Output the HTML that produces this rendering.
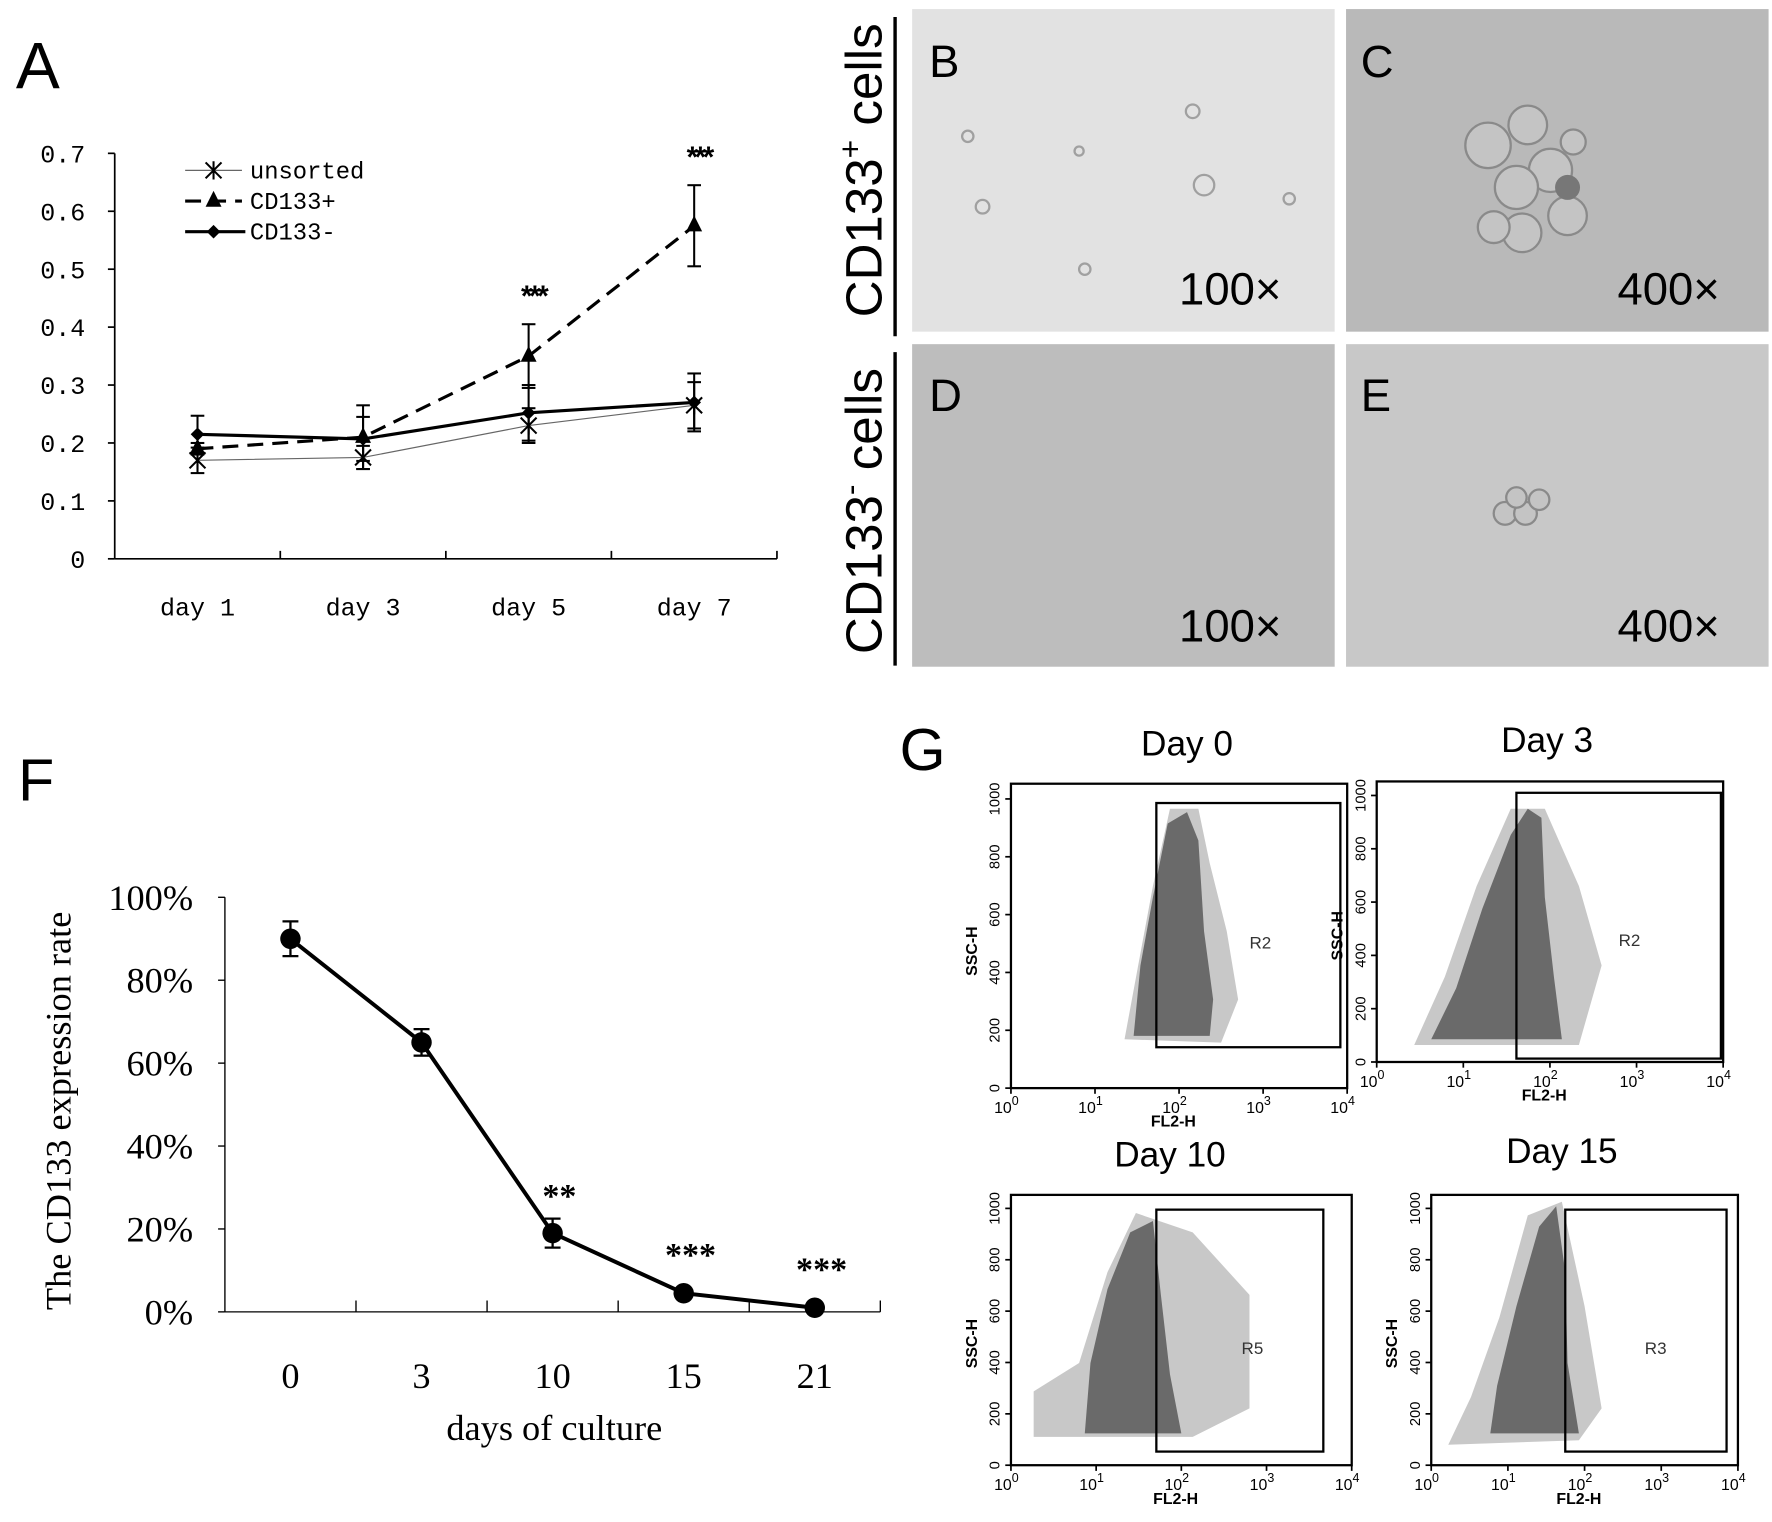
<!DOCTYPE html>
<html><head><meta charset="utf-8"><style>
html,body{margin:0;padding:0;background:#fff}
svg{display:block}
.mono{font-family:"Liberation Mono",monospace}
.serif{font-family:"Liberation Serif",serif}
.sans{font-family:"Liberation Sans",sans-serif}
</style></head><body>
<svg id="fig" width="1772" height="1522" viewBox="0 0 1560 1340" preserveAspectRatio="none" xmlns="http://www.w3.org/2000/svg">
<rect width="1560" height="1340" fill="#fff"/>
<text x="14" y="78" class="sans" font-size="58">A</text>
<text x="16" y="705" class="sans" font-size="52">F</text>
<text x="792" y="678" class="sans" font-size="52">G</text>
<g id="chartA"></g>
<g id="chartF"></g>

<g>
<rect x="803" y="8" width="372" height="284" fill="#e2e2e2"/>
<rect x="1185" y="8" width="372" height="284" fill="#b9b9b9"/>
<rect x="803" y="303" width="372" height="284" fill="#bdbdbd"/>
<rect x="1185" y="303" width="372" height="284" fill="#c8c8c8"/>
<g fill="none" stroke="#a0a0a0" stroke-width="2">
<circle cx="1060" cy="163" r="9"/><circle cx="852" cy="120" r="5"/><circle cx="865" cy="182" r="6"/><circle cx="1050" cy="98" r="6"/><circle cx="955" cy="237" r="5"/><circle cx="1135" cy="175" r="5"/><circle cx="950" cy="133" r="4"/>
</g>
<g fill="#c4c4c4" stroke="#8a8a8a" stroke-width="2">
<circle cx="1310" cy="128" r="20"/><circle cx="1345" cy="110" r="17"/><circle cx="1365" cy="150" r="19"/><circle cx="1335" cy="165" r="19"/><circle cx="1380" cy="190" r="17"/><circle cx="1340" cy="205" r="17"/><circle cx="1315" cy="200" r="14"/><circle cx="1385" cy="125" r="11"/>
<circle cx="1325" cy="452" r="10"/><circle cx="1343" cy="452" r="10"/><circle cx="1335" cy="438" r="9"/><circle cx="1355" cy="440" r="9"/>
</g>
<circle cx="1380" cy="165" r="11" fill="#777"/>
<g class="sans" font-size="40">
<text x="818" y="68">B</text>
<text x="1198" y="68">C</text>
<text x="818" y="362">D</text>
<text x="1198" y="362">E</text>
<text x="1038" y="268">100×</text>
<text x="1424" y="268">400×</text>
<text x="1038" y="565">100×</text>
<text x="1424" y="565">400×</text>
</g>
<g class="sans" font-size="45">
<text transform="translate(776,150) rotate(-90)" text-anchor="middle">CD133<tspan font-size="28" dy="-18">+</tspan><tspan dy="18"> cells</tspan></text>
<text transform="translate(776,450) rotate(-90)" text-anchor="middle">CD133<tspan font-size="28" dy="-18">-</tspan><tspan dy="18"> cells</tspan></text>
</g>
<line x1="788" y1="15" x2="788" y2="296" stroke="#000" stroke-width="3"/>
<line x1="788" y1="310" x2="788" y2="586" stroke="#000" stroke-width="3"/>
</g>

<g id="flow"></g>

<script>
const NS="http://www.w3.org/2000/svg";
function mk(tag,attrs,parent,txt){const e=document.createElementNS(NS,tag);for(const k in attrs)e.setAttribute(k,attrs[k]);if(txt!==undefined)e.textContent=txt;parent.appendChild(e);return e;}

const aCategories=["day 1","day 3","day 5","day 7"];
const aTicks=["0","0.1","0.2","0.3","0.4","0.5","0.6","0.7"];
const aUnsorted=[0.17,0.175,0.23,0.265];
const aUnsortedErr=[0.022,0.02,0.03,0.04];
const aPos=[0.19,0.21,0.35,0.575];
const aPosErr=[0.01,0.055,0.055,0.07];
const aNeg=[0.215,0.207,0.252,0.27];
const aNegErr=[0.032,0.038,0.048,0.05];
const aStars=["","","***","***"];

const fCategories=["0","3","10","15","21"];
const fTicks=["0%","20%","40%","60%","80%","100%"];
const fValues=[0.90,0.65,0.19,0.045,0.01];
const fErr=[0.042,0.032,0.035,0,0];
const fStars=["","","**","***","***"];

(function(){
 const g=document.getElementById('chartA');
 const L=101,R=684,T=135,B=492,max=0.7;
 const y=v=>B-(v/max)*(B-T);
 const step=(R-L)/aCategories.length;
 const x=i=>L+step*(i+0.5);
 mk('line',{x1:L,y1:T,x2:L,y2:B,stroke:'#000','stroke-width':1.5},g);
 mk('line',{x1:L,y1:B,x2:R,y2:B,stroke:'#000','stroke-width':1.5},g);
 aTicks.forEach((t,i)=>{const v=i*0.1;
  mk('line',{x1:L-6,y1:y(v),x2:L,y2:y(v),stroke:'#000','stroke-width':1.5},g);
  const tx=mk('text',{x:L-26,y:y(v)+8,'text-anchor':'end','font-size':22,class:'mono'},g,t);
  
  
 });
 for(let i=1;i<=aCategories.length;i++){mk('line',{x1:L+step*i,y1:B-7,x2:L+step*i,y2:B,stroke:'#000','stroke-width':1.5},g);}
 aCategories.forEach((c,i)=>{const tx=mk('text',{x:x(i),y:542,'text-anchor':'middle','font-size':22,class:'mono'},g,c);
  
  });
 function series(vals,errs,name,sw,dash,marker,col){
  const sg=mk('g',{},g);
  
  
  mk('polyline',{points:vals.map((v,i)=>x(i)+','+y(v)).join(' '),fill:'none',stroke:col,'stroke-width':sw,'stroke-dasharray':dash},sg);
  vals.forEach((v,i)=>{const xx=x(i);
   mk('line',{x1:xx,y1:y(v-errs[i]),x2:xx,y2:y(v+errs[i]),stroke:'#000','stroke-width':1.8},sg);
   mk('line',{x1:xx-6,y1:y(v+errs[i]),x2:xx+6,y2:y(v+errs[i]),stroke:'#000','stroke-width':1.8},sg);
   mk('line',{x1:xx-6,y1:y(v-errs[i]),x2:xx+6,y2:y(v-errs[i]),stroke:'#000','stroke-width':1.8},sg);
   marker(sg,xx,y(v));});
 }
 const star=(p,cx,cy)=>{mk('path',{d:`M${cx-7},${cy-7}L${cx+7},${cy+7}M${cx+7},${cy-7}L${cx-7},${cy+7}M${cx},${cy-8}L${cx},${cy+8}`,stroke:'#000','stroke-width':1.8},p);};
 const tri=(p,cx,cy)=>{mk('path',{d:`M${cx},${cy-9}L${cx+7},${cy+5}L${cx-7},${cy+5}Z`,fill:'#000'},p);};
 const dia=(p,cx,cy)=>{mk('path',{d:`M${cx},${cy-6}L${cx+6},${cy}L${cx},${cy+6}L${cx-6},${cy}Z`,fill:'#000'},p);};
 series(aUnsorted,aUnsortedErr,'series-unsorted',1,'none',star,'#666');
 series(aPos,aPosErr,'series-cd133-pos',2.8,'14 8',tri,'#000');
 series(aNeg,aNegErr,'series-cd133-neg',2.8,'none',dia,'#000');
 aStars.forEach((s,i)=>{if(!s)return;const v=aPos[i]+aPosErr[i];
  const tx=mk('text',{x:x(i)+4,y:y(v)-16,'text-anchor':'middle','font-size':26,'font-weight':'bold','letter-spacing':'-3',class:'sans'},g,s);
  
  });
 const lg=mk('g',{},g);
 
 
 mk('line',{x1:163,y1:150,x2:213,y2:150,stroke:'#666','stroke-width':1},lg);star(lg,188,150);
 mk('line',{x1:163,y1:177,x2:213,y2:177,stroke:'#000','stroke-width':2.8,'stroke-dasharray':'14 8'},lg);tri(lg,188,177);
 mk('line',{x1:163,y1:204,x2:216,y2:204,stroke:'#000','stroke-width':2.8},lg);dia(lg,188,204);
 [['unsorted',150],['CD133+',177],['CD133-',204]].forEach(([t,yy])=>{mk('text',{x:220,y:yy+7,'font-size':21,class:'mono'},lg,t);});
})();

(function(){
 const g=document.getElementById('chartF');
 const L=198,R=775,T=790,B=1155;
 const y=v=>B-v*(B-T);
 const step=(R-L)/fCategories.length;
 const x=i=>L+step*(i+0.5);
 mk('line',{x1:L,y1:T,x2:L,y2:B,stroke:'#000','stroke-width':1.2},g);
 mk('line',{x1:L,y1:B,x2:R,y2:B,stroke:'#000','stroke-width':1.2},g);
 fTicks.forEach((t,i)=>{const v=i*0.2;
  mk('line',{x1:L-6,y1:y(v),x2:L,y2:y(v),stroke:'#000','stroke-width':1.2},g);
  const tx=mk('text',{x:L-28,y:y(v)+11,'text-anchor':'end','font-size':32,class:'serif'},g,t);
  
  });
 for(let i=1;i<=fCategories.length;i++){mk('line',{x1:L+step*i,y1:B-10,x2:L+step*i,y2:B,stroke:'#000','stroke-width':1.2},g);}
 fCategories.forEach((c,i)=>{const tx=mk('text',{x:x(i),y:1222,'text-anchor':'middle','font-size':32,class:'serif'},g,c);
  
  });
 const xt=mk('text',{x:488,y:1268,'text-anchor':'middle','font-size':32,class:'serif'},g,'days of culture');
 
 
 const yt=mk('text',{transform:'translate(62,978) rotate(-90)','text-anchor':'middle','font-size':32,class:'serif'},g,'The CD133 expression rate');
 
 
 const line=mk('polyline',{points:fValues.map((v,i)=>x(i)+','+y(v)).join(' '),fill:'none',stroke:'#000','stroke-width':3.5},g);
 
 
 fValues.forEach((v,i)=>{const xx=x(i);
  if(fErr[i]>0){
   mk('line',{x1:xx,y1:y(v-fErr[i]),x2:xx,y2:y(v+fErr[i]),stroke:'#000','stroke-width':2},g);
   mk('line',{x1:xx-7,y1:y(v+fErr[i]),x2:xx+7,y2:y(v+fErr[i]),stroke:'#000','stroke-width':2},g);
   mk('line',{x1:xx-7,y1:y(v-fErr[i]),x2:xx+7,y2:y(v-fErr[i]),stroke:'#000','stroke-width':2},g);}
  const c=mk('circle',{cx:xx,cy:y(v),r:9,fill:'#000'},g);
  
  
  if(fStars[i]){const tx=mk('text',{x:xx+6,y:y(v+fErr[i])-(fErr[i]>0?10:24),'text-anchor':'middle','font-size':30,'font-weight':'bold',class:'serif'},g,fStars[i]);
   
   }
 });
})();

const flowTitles=["Day 0","Day 3","Day 10","Day 15"];
const flowGates=["R2","R2","R5","R3"];
(function(){
 const g=document.getElementById('flow');
 const plots=[
  {f:[890,690,1186,958],gate:[1018,707,1180,922],tx:1045,ty:665,blob:"998,912 1004,850 1015,790 1028,725 1045,715 1055,740 1060,820 1068,880 1065,912",halo:"990,915 1002,850 1015,780 1030,712 1055,712 1065,760 1080,820 1090,880 1075,918",gl:[1100,835]},
  {f:[1212,688,1517,935],gate:[1335,698,1515,932],tx:1362,ty:662,blob:"1260,915 1282,870 1305,800 1330,735 1345,712 1357,720 1360,790 1368,860 1375,915",halo:"1245,920 1272,860 1300,780 1330,712 1360,712 1390,780 1410,850 1390,920",gl:[1425,833]},
  {f:[890,1052,1190,1290],gate:[1018,1065,1165,1278],tx:1030,ty:1027,blob:"955,1262 960,1200 975,1135 995,1085 1015,1075 1022,1140 1030,1210 1040,1262",halo:"910,1265 910,1225 950,1200 975,1120 1000,1068 1050,1085 1100,1140 1100,1240 1050,1265",gl:[1093,1192]},
  {f:[1260,1052,1530,1290],gate:[1378,1065,1520,1278],tx:1375,ty:1024,blob:"1312,1262 1318,1220 1335,1150 1355,1080 1370,1062 1378,1120 1380,1200 1390,1262",halo:"1275,1272 1295,1230 1320,1160 1345,1070 1375,1058 1395,1150 1410,1240 1390,1268",gl:[1448,1192]}
 ];
 plots.forEach((p,k)=>{
  const pg=mk('g',{},g);
  
  
  const [x0,y0,x1,y1]=p.f;
  mk('polygon',{points:p.halo,fill:'#c8c8c8'},pg);
  mk('polygon',{points:p.blob,fill:'#6a6a6a'},pg);
  mk('rect',{x:x0,y:y0,width:x1-x0,height:y1-y0,fill:'none',stroke:'#000','stroke-width':2},pg);
  const [gx0,gy0,gx1,gy1]=p.gate;
  mk('rect',{x:gx0,y:gy0,width:gx1-gx0,height:gy1-gy0,fill:'none',stroke:'#000','stroke-width':2},pg);
  const t=mk('text',{x:p.tx,y:p.ty,'text-anchor':'middle','font-size':31,class:'sans'},pg,flowTitles[k]);
  
  
  mk('text',{x:p.gl[0],y:p.gl[1],'font-size':15,class:'sans',fill:'#333'},pg,flowGates[k]);
  const w=x1-x0;
  ["0","1","2","3","4"].forEach((e,i)=>{const xx=x0+w*i/4;
   mk('line',{x1:xx,y1:y1,x2:xx,y2:y1+5,stroke:'#000','stroke-width':1.5},pg);
   const tt=mk('text',{x:xx-4,y:y1+22,'text-anchor':'middle','font-size':14,class:'sans'},pg,'10');
   mk('tspan',{dy:-7,'font-size':11},tt,e);});
  mk('text',{x:x0+w/2-5,y:y1+34,'text-anchor':'middle','font-size':14,class:'sans','font-weight':'bold'},pg,'FL2-H');
  const h=y1-y0;
  ["0","200","400","600","800","1000"].forEach((v,i)=>{const yy=y1-(h*0.95)*i/5;
   mk('line',{x1:x0-5,y1:yy,x2:x0,y2:yy,stroke:'#000','stroke-width':1.5},pg);
   mk('text',{transform:`translate(${x0-10},${yy}) rotate(-90)`,'text-anchor':'middle','font-size':13,class:'sans'},pg,v);});
  mk('text',{transform:`translate(${x0-30},${y0+h*0.55}) rotate(-90)`,'text-anchor':'middle','font-size':14,class:'sans','font-weight':'bold'},pg,'SSC-H');
 });
})();
</script>
</svg>
</body></html>
